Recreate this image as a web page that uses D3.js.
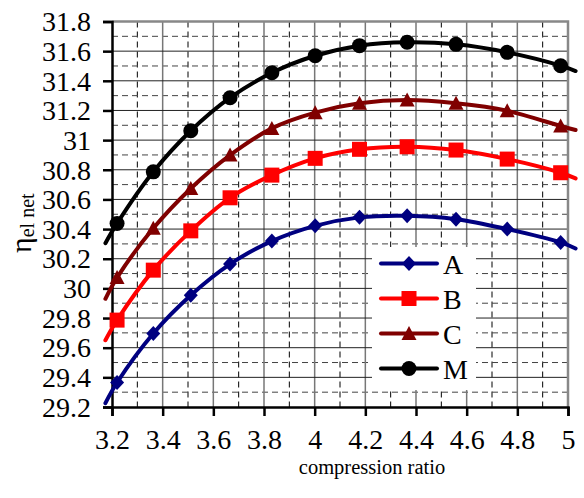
<!DOCTYPE html>
<html><head><meta charset="utf-8">
<script src="https://cdn.jsdelivr.net/npm/d3@7"></script>
<style>body{margin:0;background:#fff}svg{display:block}text{font-family:"Liberation Serif","Times New Roman",serif;fill:#000}</style>
</head><body>
<svg id="c" width="584" height="498"></svg>
<script>
// ---- data ----
const xValues = [3.22, 3.363, 3.511, 3.666, 3.831, 4.002, 4.177, 4.365, 4.558, 4.76, 4.971];
const seriesA = [29.365, 29.696, 29.954, 30.164, 30.319, 30.422, 30.479, 30.490, 30.467, 30.400, 30.310];
const seriesB = [29.786, 30.123, 30.388, 30.611, 30.764, 30.877, 30.938, 30.955, 30.933, 30.872, 30.780];
const seriesC = [30.073, 30.405, 30.674, 30.899, 31.079, 31.185, 31.248, 31.270, 31.248, 31.198, 31.095];
const seriesM = [30.438, 30.786, 31.063, 31.286, 31.454, 31.569, 31.637, 31.660, 31.646, 31.592, 31.502];
// where each drawn line visibly starts / ends (beyond the markers)
const lineStartX = 3.174, lineEndX = 5.03;
const lineStart = [29.226, 29.65, 29.93, 30.305];
const lineEnd   = [30.269, 30.742, 31.068, 31.466];
const seriesNames = ["A", "B", "C", "M"];
const seriesColors = ["#000080", "#ff0000", "#800000", "#000000"];
const seriesShapes = ["diamond", "square", "triangle", "circle"];
const xTicks = [3.2, 3.4, 3.6, 3.8, 4, 4.2, 4.4, 4.6, 4.8, 5];
const yTicks = [29.2, 29.4, 29.6, 29.8, 30, 30.2, 30.4, 30.6, 30.8, 31, 31.2, 31.4, 31.6, 31.8];
const xLabel = "compression ratio";

const allSeries = [seriesA, seriesB, seriesC, seriesM];
const svg = d3.select("#c");
const L = 112, R = 568, T = 21.5, B = 407;
const x = d3.scaleLinear().domain([3.2, 5]).range([L, R]);
const y = d3.scaleLinear().domain([29.2, 31.8]).range([B, T]);

// grid
const g = svg.append("g");
const minorX = d3.range(3.3, 5, 0.2);
const minorY = d3.range(29.3, 31.8, 0.2);
g.selectAll(".mx").data(minorX).join("line")
  .attr("x1", d => x(d)).attr("x2", d => x(d)).attr("y1", T).attr("y2", B)
  .attr("stroke", "#000").attr("stroke-width", 1).attr("stroke-dasharray", "6,4");
g.selectAll(".my").data(minorY).join("line")
  .attr("y1", d => y(d)).attr("y2", d => y(d)).attr("x1", L).attr("x2", R)
  .attr("stroke", "#444").attr("stroke-width", 1).attr("stroke-dasharray", "6,4");
g.selectAll(".Mx").data(xTicks.slice(1, -1)).join("line")
  .attr("x1", d => x(d)).attr("x2", d => x(d)).attr("y1", T).attr("y2", B)
  .attr("stroke", "#777").attr("stroke-width", 1.5);
g.selectAll(".My").data(yTicks.slice(1, -1)).join("line")
  .attr("y1", d => y(d)).attr("y2", d => y(d)).attr("x1", L).attr("x2", R)
  .attr("stroke", "#222").attr("stroke-width", 1);
// plot border top/right
svg.append("path").attr("d", `M${L},${T}H${R}V${B}`).attr("fill", "none")
  .attr("stroke", "#888").attr("stroke-width", 2.5);

// axes
const yAxis = svg.append("g").attr("transform", `translate(${L},0)`)
  .call(d3.axisLeft(y).tickValues(yTicks).tickFormat(d3.format("")).tickSize(9).tickPadding(12));
const xAxis = svg.append("g").attr("transform", `translate(0,${B})`)
  .call(d3.axisBottom(x).tickValues(xTicks).tickFormat(d3.format("")).tickSize(9).tickPadding(15));
[yAxis, xAxis].forEach(a => {
  a.attr("font-family", null).attr("font-size", null);
  a.select(".domain").attr("stroke", "#000").attr("stroke-width", 2.5);
  a.selectAll(".tick line").attr("stroke", "#000").attr("stroke-width", 2.5);
  a.selectAll(".tick text").attr("font-size", 28).attr("fill", "#000");
});
yAxis.selectAll(".tick text").attr("dy", "0.33em");
xAxis.selectAll(".tick text").attr("dy", "0.66em");

// titles
svg.append("text").attr("x", 372).attr("y", 474).attr("text-anchor", "middle")
  .attr("font-size", 20.5).text(xLabel);
const yt = svg.append("text").attr("transform", "translate(31,253) rotate(-90)").attr("text-anchor", "start");
yt.append("tspan").attr("font-size", 30).text("η");
yt.append("tspan").attr("font-size", 20).attr("dy", 3).text("el net");

// markers
function marker(sel, shape, color) {
  if (shape === "circle") sel.append("circle").attr("r", 7.5).attr("fill", color);
  else if (shape === "square") sel.append("rect").attr("x", -7.5).attr("y", -7.5).attr("width", 15).attr("height", 15).attr("fill", color);
  else if (shape === "diamond") sel.append("path").attr("d", "M0,-7.5L7,0L0,7.5L-7,0Z").attr("fill", color);
  else sel.append("path").attr("d", "M0,-7.5L7.5,6.5L-7.5,6.5Z").attr("fill", color);
}

const line = d3.line().x(d => x(d[0])).y(d => y(d[1])).curve(d3.curveCatmullRom.alpha(0.5));
allSeries.forEach((s, i) => {
  const pts = [[lineStartX, lineStart[i]]].concat(xValues.map((xv, j) => [xv, s[j]])).concat([[lineEndX, lineEnd[i]]]);
  svg.append("path").attr("d", line(pts)).attr("fill", "none")
    .attr("stroke", seriesColors[i]).attr("stroke-width", 4).attr("stroke-linecap", "round");
  xValues.forEach((xv, j) => {
    const m = svg.append("g").attr("transform", `translate(${x(xv)},${y(s[j])})`);
    marker(m, seriesShapes[i], seriesColors[i]);
  });
});

// legend
svg.append("rect").attr("x", 372).attr("y", 247).attr("width", 104).attr("height", 143).attr("fill", "#fff");
seriesNames.forEach((n, i) => {
  const cy = 263.5 + i * 35;
  svg.append("line").attr("x1", 381).attr("x2", 437).attr("y1", cy).attr("y2", cy)
    .attr("stroke", seriesColors[i]).attr("stroke-width", 4).attr("stroke-linecap", "round");
  const m = svg.append("g").attr("transform", `translate(409,${cy})`);
  marker(m, seriesShapes[i], seriesColors[i]);
  svg.append("text").attr("x", 443).attr("y", cy + 10.5).attr("font-size", 28).text(n);
});
</script>
</body></html>
